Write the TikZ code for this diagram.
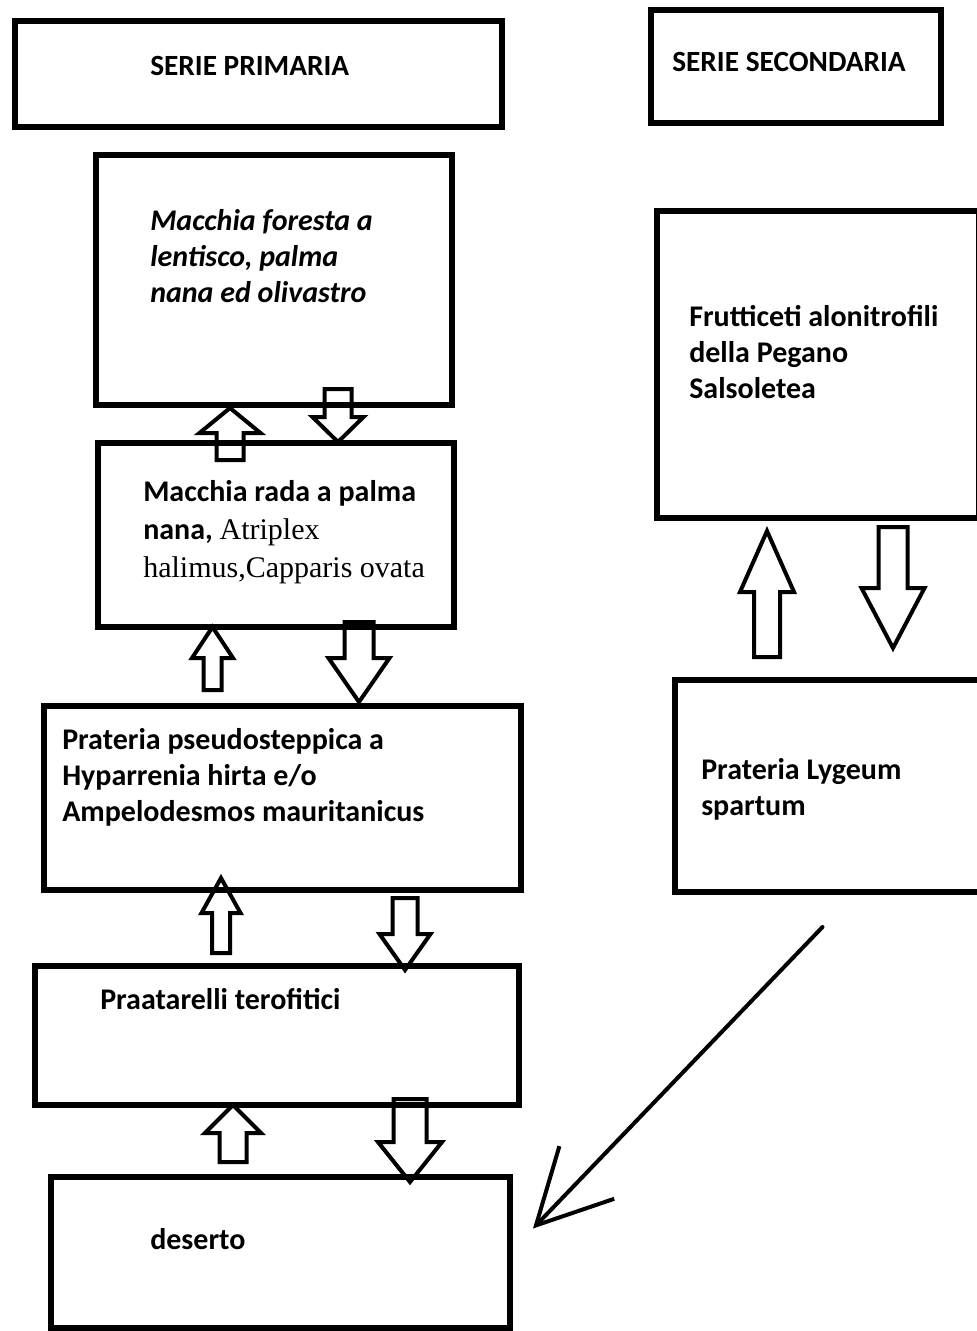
\documentclass[tikz,border=0pt]{standalone}
\usepackage{fontspec}
\setmainfont{Carlito}
\newfontfamily\tnr{Liberation Serif}
\usetikzlibrary{calc,fit,arrows.meta}
\newcommand{\txtfont}{\bfseries\fontsize{22.5}{27}\selectfont}
\newcommand{\headfont}{\bfseries\fontsize{22}{27}\selectfont}
\tikzset{
  box/.style={draw, line width=4.5pt, inner sep=0pt, outer sep=0pt},
  txt/.style={anchor=base west, inner sep=0pt, align=left, font=\txtfont},
  fat/.style={draw, line width=3pt, line join=miter},
}
% hollow block arrow: x, from, offset, to, offset, shaft half, head half, head length
\newcommand{\fatarr}[8]{%
  \draw[fat] let \p1=($(#1,0 |- #2)+(0,#3)$), \p2=($(#1,0 |- #4)+(0,#5)$),
    \p3=($(\p2)!#8*0.75pt!(\p1)$) in
    ({\x1-#6*0.75pt},\y1) -- ({\x1-#6*0.75pt},\y3) -- ({\x1-#7*0.75pt},\y3) -- (\p2)
    -- ({\x1+#7*0.75pt},\y3) -- ({\x1+#6*0.75pt},\y3) -- ({\x1+#6*0.75pt},\y1) -- cycle;}
\begin{document}
\begin{tikzpicture}[x=0.75pt,y=-0.75pt]
  \useasboundingbox (0,0) rectangle (977,1331);
  % boxes
  \node[box, fit={(15,21) (502,127)}] (primaria) {};
  \node[box, fit={(651,10) (941,123)}] (secondaria) {};
  \node[box, fit={(96,155) (452,405)}] (foresta) {};
  \node[box, fit={(98,443) (454,627)}] (rada) {};
  \node[box, fit={(44,706) (521,890)}] (prateria) {};
  \node[box, fit={(35,966) (519,1105)}] (pratelli) {};
  \node[box, fit={(51,1177) (510,1328)}] (deserto) {};
  \node[box, fit={(657,211) (979,518)}] (frutticeti) {};
  \node[box, fit={(675,680) (990,892)}] (lygeum) {};
  % texts (base = last line)
  \node[txt, font=\headfont] (tprimaria) at (150,76) {SERIE PRIMARIA};
  \node[txt, font=\headfont] (tsecondaria) at (672,72) {SERIE SECONDARIA};
  \node[txt, font=\txtfont\itshape] (tforesta) at (150,302) {Macchia foresta a\\lentisco, palma\\nana ed olivastro};
  \node[txt] (trada) at (143,577) {Macchia rada a palma\\[1.5pt]nana, {\tnr\mdseries Atriplex}\\[1.5pt]{\tnr\mdseries halimus,Capparis ovata}};
  \node[txt] (tprateria) at (62,821) {Prateria pseudosteppica a\\Hyparrenia hirta e/o\\Ampelodesmos mauritanicus};
  \node[txt] (tpratelli) at (100,1009) {Praatarelli terofitici};
  \node[txt] (tdeserto) at (150,1249) {deserto};
  \node[txt] (tfrutticeti) at (689,398) {Frutticeti alonitrofili\\della Pegano\\Salsoletea};
  \node[txt] (tlygeum) at (701,815) {Prateria Lygeum\\spartum};
  % block arrows up and down
  \foreach \ax/\fa/\oa/\fb/\ob/\sw/\hw/\hl in {
      230/rada.north/17/foresta.south/3/13.5/30.5/25,
      338/foresta.south/-16/rada.north/-1/13.5/25.5/25,
      212.5/prateria.north/-16/rada.south/0/9/20.5/31,
      359/rada.south/-5/prateria.north/-4/14.5/30.5/44,
      221/pratelli.north/-13/prateria.south/-12/9/19.5/35,
      405/prateria.south/8/pratelli.north/4/12.5/25.5/36,
      233/deserto.north/-15/pratelli.south/0/13.5/28/28,
      410/pratelli.south/-6/deserto.north/5/16.5/32/40,
      767/lygeum.north/-23/frutticeti.south/13/13/27/61,
      893/frutticeti.south/9/lygeum.north/-32/14.5/31.5/60}
    \fatarr{\ax}{\fa}{\oa}{\fb}{\ob}{\sw}{\hw}{\hl};
  % long arrow down to deserto
  \coordinate (dstart) at ($(lygeum.south)+(-10,35)$);
  \draw[line width=3pt, line cap=round, -{Straight Barb[length=55pt,width=57pt]}] (dstart) -- ($(deserto.east)+(23,-24)$);
\end{tikzpicture}
\end{document}
